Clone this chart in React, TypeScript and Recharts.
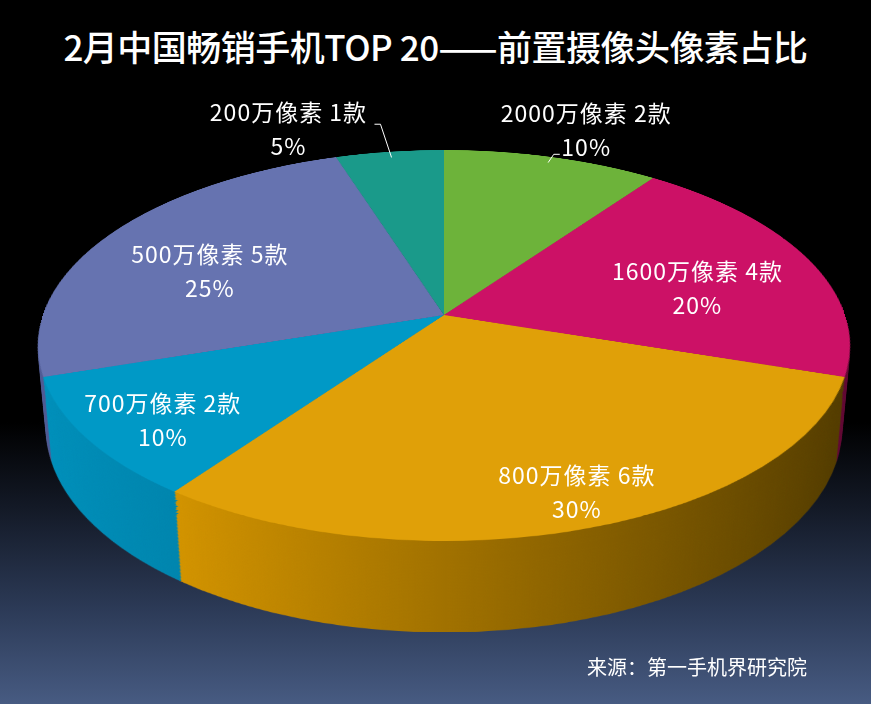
import React from "react";
import { PieChart, Pie, Cell } from "recharts";

const categories = ["2000万像素", "1600万像素", "800万像素", "700万像素", "500万像素", "200万像素"];
const counts = [2, 4, 6, 2, 5, 1];
const shares = ["10%", "20%", "30%", "10%", "25%", "5%"];

const topColors = ["#6db33a", "#cc1166", "#e0a008", "#0099c6", "#6673b0", "#1a9a8a"];
const sideLight = ["#4f8a22", "#9c0d4d", "#d29300", "#008fba", "#4f5a94", "#12786b"];
const sideDark = ["#3b6a17", "#5e0630", "#523b00", "#00759a", "#3c4678", "#0b5a50"];

const data = categories.map((name, i) => ({
  name,
  value: counts[i],
  share: shares[i],
}));

const W = 871;
const H = 704;
// disk geometry and view (CSS 3D perspective)
const R = 401;
const CX = 444;
const CY = 315;
const TILT = 61.6;
const PERSP = 2261;
const DEPTH = 95;
const STEP = 1.5;

const COS_T = Math.cos((TILT * Math.PI) / 180);
const SIN_T = Math.sin((TILT * Math.PI) / 180);

const FONT = "'Noto Sans CJK SC', 'Noto Sans', sans-serif";

// project a point on the disk's top face (polar, angle in degrees, counter-clockwise) onto the page
const project = (r: number, angle: number) => {
  const a = (angle * Math.PI) / 180;
  const x = r * Math.cos(a);
  const yUp = r * Math.sin(a);
  const k = PERSP / (PERSP + yUp * SIN_T);
  return { x: CX + x * k, y: CY - yUp * COS_T * k };
};

const Label = (props: any) => {
  const { midAngle, index } = props;
  const d = data[index];
  const sin = Math.sin((midAngle * Math.PI) / 180);
  const cos = Math.cos((midAngle * Math.PI) / 180);
  const line1 = `${d.name} ${d.value}款`;
  const line2 = d.share;
  const txt = (x: number, y: number, s: string) => (
    <text
      x={x}
      y={y}
      fill="#ffffff"
      fontSize={23}
      letterSpacing={1}
      textAnchor="middle"
      fontFamily={FONT}
    >
      {s}
    </text>
  );
  if (sin > 0.9) {
    const s = project(R * 0.96, midAngle);
    const e = project(R * (cos >= 0 ? 1.02 : 1.2), midAngle);
    const tick = cos >= 0 ? 6 : -6;
    const c = project(R * 1.2, midAngle);
    const lx = c.x + (cos >= 0 ? 16 : -92);
    const ly = c.y + (cos >= 0 ? 0 : 5);
    return (
      <g>
        <polyline
          points={`${s.x},${s.y} ${e.x},${e.y} ${e.x + tick},${e.y}`}
          fill="none"
          stroke="#ffffff"
          strokeWidth={1}
        />
        {txt(lx, ly - 8, line1)}
        {txt(lx, ly + 26, line2)}
      </g>
    );
  }
  // labels on the front half sit further out than those at the back
  const c = project(R * (sin > 0 ? 0.66 : 0.84), midAngle);
  const x = c.x + (sin > 0 ? cos * 10 : 14);
  const y = c.y + (sin > 0 ? 11 : 3);
  return (
    <g>
      {txt(x, y - 8, line1)}
      {txt(x, y + 26, line2)}
    </g>
  );
};

const depths: number[] = [];
for (let z = DEPTH; z > 0; z -= STEP) depths.push(z);

const diskStyle = (z: number): React.CSSProperties => ({
  position: "absolute",
  left: CX - R,
  top: CY - R,
  width: 2 * R,
  height: 2 * R,
  transformOrigin: "50% 50%",
  transform: `perspective(${PERSP}px) rotateX(${TILT}deg) translateZ(${-z}px)`,
});

const Disk = ({ fills }: { fills: string[] }) => (
  <PieChart width={2 * R} height={2 * R} margin={{ top: 0, right: 0, bottom: 0, left: 0 }}>
    <defs>
      {topColors.map((c, i) => (
        <linearGradient key={c} id={`side${i}`} x1="0" y1="0" x2="1" y2="0">
          <stop offset="0%" stopColor={sideLight[i]} />
          <stop offset="100%" stopColor={sideDark[i]} />
        </linearGradient>
      ))}
    </defs>
    <Pie
      data={data}
      dataKey="value"
      cx={R}
      cy={R}
      outerRadius={R}
      startAngle={90}
      endAngle={-270}
      stroke="none"
      isAnimationActive={false}
      label={false}
      labelLine={false}
    >
      {data.map((d, i) => (
        <Cell key={d.name} fill={fills[i]} />
      ))}
    </Pie>
  </PieChart>
);

const sideFills = topColors.map((_, i) => `url(#side${i})`);

export default function App() {
  return (
    <div
      style={{
        position: "absolute",
        left: 0,
        top: 0,
        width: W,
        height: H,
        overflow: "hidden",
        background:
          "linear-gradient(180deg, #000000 0%, #000000 60%, #131926 72%, #2b3955 86%, #475b82 100%)",
        fontFamily: FONT,
      }}
    >
      <div
        style={{
          position: "absolute",
          top: 20,
          left: 0,
          width: W,
          textAlign: "center",
          color: "#ffffff",
          fontSize: 35,
          fontWeight: 500,
          letterSpacing: -0.5,
        }}
      >
        2月中国畅销手机TOP 20——前置摄像头像素占比
      </div>

      {depths.map((z) => (
        <div key={z} style={diskStyle(z)}>
          <Disk fills={sideFills} />
        </div>
      ))}
      <div style={diskStyle(0)}>
        <Disk fills={topColors} />
      </div>

      <div style={{ position: "absolute", left: 0, top: 0 }}>
        <PieChart width={W} height={H}>
          <Pie
            data={data}
            dataKey="value"
            cx={CX}
            cy={CY}
            outerRadius={R}
            startAngle={90}
            endAngle={-270}
            fill="none"
            stroke="none"
            isAnimationActive={false}
            labelLine={false}
            label={Label}
          >
            {data.map((d) => (
              <Cell key={d.name} fill="none" stroke="none" />
            ))}
          </Pie>
        </PieChart>
      </div>

      <div
        style={{
          position: "absolute",
          right: 64,
          top: 652,
          color: "#ffffff",
          fontSize: 20,
        }}
      >
        来源：第一手机界研究院
      </div>
    </div>
  );
}
